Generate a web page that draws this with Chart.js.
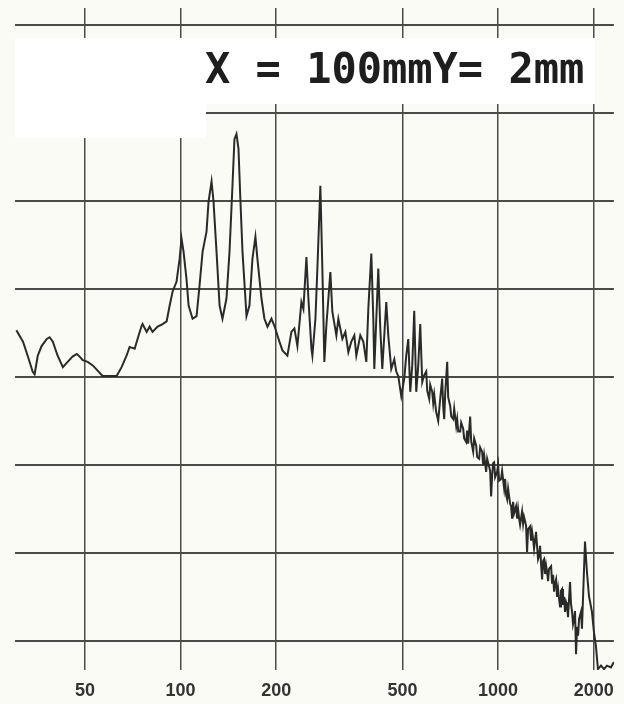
<!DOCTYPE html>
<html>
<head>
<meta charset="utf-8">
<title>Spectrum</title>
<script src="https://cdn.jsdelivr.net/npm/chart.js"></script>
<style>
  html, body { margin: 0; padding: 0; background: #fbfbf6; }
  #wrap { width: 624px; height: 704px; position: relative; }
</style>
</head>
<body>
<div id="wrap"><canvas id="spectrum"></canvas></div>
<script>
// frequency (Hz) of each traced point
var freqHz = [30.4,31.9,33.0,34.2,34.7,35.5,36.5,37.9,38.7,39.6,
  41.0,42.6,44.1,45.7,47.1,48.1,49.2,51.0,52.9,54.8,
  56.8,58.9,62.9,65.2,67.6,69.1,71.7,73.2,75.4,75.9,
  78.2,79.9,81.6,84.7,87.8,90.4,92.4,94.4,97.1,99.3,
  100.7,102.2,104.4,106.0,109.1,112.3,114.7,117.3,120.7,122.5,
  125.2,127.0,129.8,132.7,135.5,139.5,142.6,145.7,147.8,150.0,
  152.2,154.4,156.7,161.3,164.8,168.4,172.1,174.6,179.8,183.7,
  187.8,193.3,197.5,201.9,204.8,209.3,217.0,223.4,228.3,233.3,
  240.2,243.7,249.1,252.7,258.3,260.1,265.9,269.7,275.6,279.6,
  283.7,287.8,296.3,300.6,309.5,314.0,323.3,330.4,337.6,345.0,
  352.6,357.7,368.2,376.3,384.6,390.2,398.8,404.6,407.5,413.5,
  419.5,425.6,431.8,444.5,451.0,460.9,471.1,477.9,484.9,495.5,
  506.4,513.7,521.3,528.9,536.6,544.4,552.4,560.5,568.6,
  576.9,585.3,593.9,598.2,606.9,611.3,620.2,624.8,629.3,638.4,
  647.8,657.2,666.8,671.7,676.5,681.5,691.4,696.4,706.6,711.8,
  722.1,727.4,738.0,743.3,748.8,759.6,765.1,776.3,781.9,793.3,
  799.1,804.9,816.7,822.7,834.7,840.7,853.0,859.2,871.7,878.0,
  890.8,897.3,903.8,917.0,923.7,937.2,943.9,950.8,957.7,964.7,
  971.6,978.7,993.0,1000.3,1007.5,1022,1029.6,1045,1052.3,1059.9,
  1068,1075.4,1091,1099,1107,1115,1123,1139,1148,1156,
  1165,1173,1190,1199,1207,1225,1234,1243,1261,1270,
  1279,1289,1298,1317,1327,1336,1346,1356,1366,1376,
  1386,1396,1406,1416,1427,1437,1447,1469,1479,1490,
  1501,1512,1523,1534,1545,1556,1567,1578,1590,1601,
  1613,1625,1637,1648,1661,1673,1685,1697,1710,1722,
  1735,1747,1760,1773,1786,1799,1824,1837,1851,1878,
  1905,1933,1975,2004,2033,2063,2109,2156,2202,2267,
  2316];

// level in grid divisions (0 = bottom grid line)
var level = [3.53,3.40,3.24,3.06,3.03,3.24,3.35,3.43,3.45,3.40,
  3.24,3.11,3.17,3.23,3.26,3.23,3.19,3.17,3.13,3.07,
  3.01,3.01,3.01,3.11,3.24,3.34,3.32,3.43,3.58,3.60,
  3.51,3.57,3.51,3.57,3.60,3.63,3.81,3.97,4.08,4.34,
  4.57,4.42,4.11,3.81,3.66,3.69,4.03,4.42,4.65,4.99,
  5.22,4.99,4.42,3.81,3.66,3.89,4.42,5.17,5.70,5.76,
  5.59,4.99,4.42,3.69,3.81,4.34,4.59,4.34,3.89,3.66,
  3.57,3.66,3.58,3.47,3.40,3.30,3.24,3.51,3.55,3.35,
  3.85,3.77,4.36,3.89,3.32,3.24,3.66,4.23,5.17,4.23,
  3.17,3.58,4.19,3.74,3.47,3.66,3.43,3.51,3.28,3.40,
  3.47,3.24,3.47,3.40,3.17,3.77,4.40,3.66,3.09,3.66,
  4.23,3.55,3.09,3.85,3.47,3.09,3.20,3.06,3.01,2.78,
  2.98,3.24,3.43,2.83,3.13,3.75,2.83,3.13,3.60,
  2.94,3.02,3.06,2.84,2.75,2.91,2.83,2.70,2.80,2.60,
  2.50,2.75,2.98,2.66,2.52,2.81,3.17,2.77,2.67,2.55,
  2.52,2.64,2.44,2.52,2.38,2.38,2.48,2.41,2.30,2.26,
  2.39,2.24,2.55,2.27,2.15,2.30,2.22,2.09,2.07,2.20,
  2.15,2.00,2.11,1.92,2.07,1.98,1.93,1.64,1.88,2.02,
  2.03,1.86,1.92,2.00,1.82,1.84,1.93,1.73,1.84,1.66,
  1.61,1.73,1.56,1.53,1.39,1.58,1.45,1.53,1.39,1.50,
  1.39,1.32,1.47,1.33,1.41,1.31,1.01,1.27,1.30,1.14,
  1.25,1.16,1.05,1.24,1.07,0.93,0.97,1.08,0.86,0.70,
  0.91,0.93,0.76,0.86,0.78,0.68,0.82,0.85,0.65,0.75,
  0.56,0.66,0.70,0.50,0.59,0.48,0.39,0.57,0.59,0.41,
  0.50,0.33,0.44,0.40,0.27,0.48,0.67,0.42,0.33,0.19,
  0.25,0.34,-0.15,0.16,0.06,0.25,0.33,0.14,0.48,1.13,
  0.78,0.51,0.33,0.10,-0.06,-0.32,-0.28,-0.32,-0.28,-0.30,
  -0.24];

var xTicks = [50, 100, 200, 500, 1000, 2000];
var yGrid = [0, 1, 2, 3, 4, 5, 6, 7];
var title = 'X = 100mmY= 2mm';

var points = freqHz.map(function (f, i) { return { x: f, y: level[i] }; });

// paper colour, then the white label patch over the grid
var labelPatch = {
  id: 'labelPatch',
  beforeDraw: function (chart) {
    var c = chart.ctx;
    c.save();
    c.fillStyle = '#fbfbf6';
    c.fillRect(0, 0, chart.width, chart.height);
    c.restore();
  },
  beforeDatasetsDraw: function (chart) {
    var c = chart.ctx;
    c.save();
    c.fillStyle = '#ffffff';
    c.fillRect(15, 38, 191, 100);
    c.fillRect(205, 38, 390, 66);
    c.fillStyle = '#1e1e1e';
    c.font = 'bold 42px "DejaVu Sans Mono"';
    c.textBaseline = 'alphabetic';
    c.fillText(title, 205, 83);
    c.restore();
  }
};

new Chart(document.getElementById('spectrum'), {
  type: 'line',
  data: {
    datasets: [{
      data: points,
      borderColor: '#2a2a2a',
      borderWidth: 2,
      pointRadius: 0,
      tension: 0,
      fill: false
    }]
  },
  options: {
    responsive: true,
    maintainAspectRatio: false,
    animation: false,
    layout: { padding: { left: 15, right: 9, top: 8, bottom: 0 } },
    plugins: { legend: { display: false }, tooltip: { enabled: false } },
    scales: {
      x: {
        type: 'logarithmic',
        min: 30.1,
        max: 2316,
        afterBuildTicks: function (s) { s.ticks = xTicks.map(function (v) { return { value: v }; }); },
        afterFit: function (s) { s.height = 34; },
        border: { display: false },
        grid: { color: '#4a4a4a', lineWidth: 1.5, drawTicks: false },
        ticks: {
          autoSkip: false,
          maxRotation: 0,
          padding: 10,
          color: '#333',
          font: { family: 'Liberation Sans', size: 18, weight: 'bold' },
          callback: function (v) { return String(v); }
        }
      },
      y: {
        min: -0.33,
        max: 7.19,
        afterBuildTicks: function (s) { s.ticks = yGrid.map(function (v) { return { value: v }; }); },
        afterFit: function (s) { s.width = 0; },
        border: { display: false },
        grid: { color: '#4a4a4a', lineWidth: 2, drawTicks: false },
        ticks: { display: false }
      }
    }
  },
  plugins: [labelPatch]
});
</script>
</body>
</html>
